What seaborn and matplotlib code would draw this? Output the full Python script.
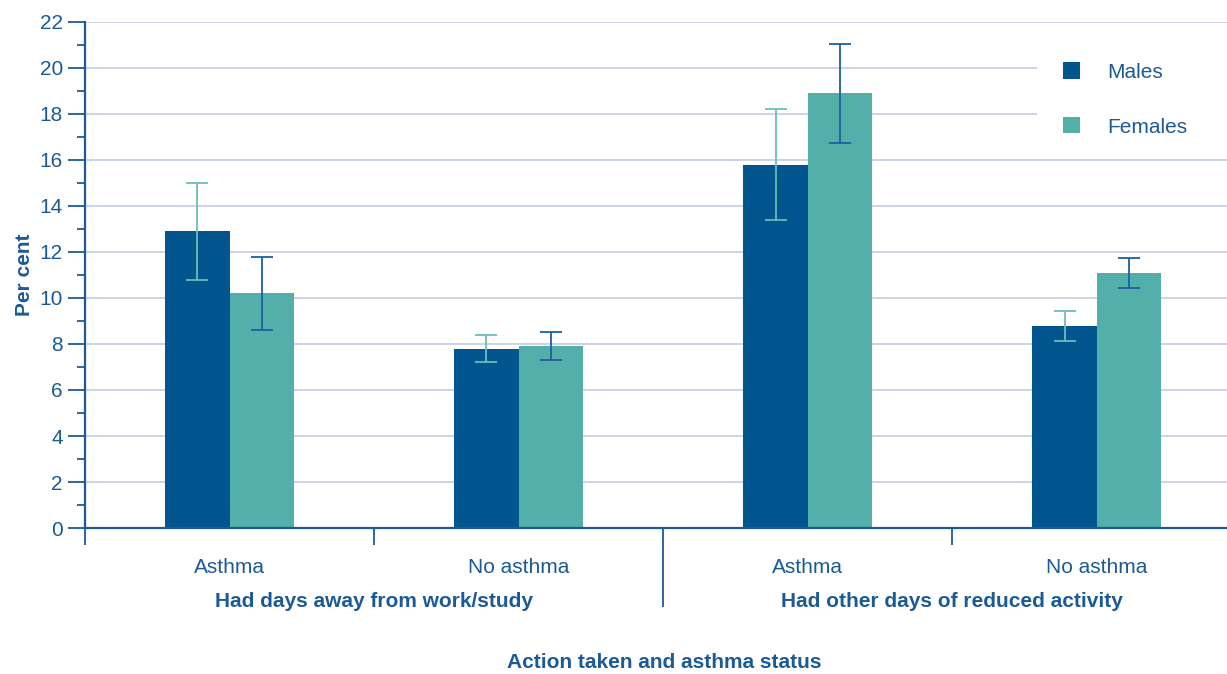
import pandas as pd
import seaborn as sns
import matplotlib.pyplot as plt
from matplotlib.patches import Patch, Rectangle
from matplotlib.ticker import MultipleLocator, FixedLocator

# data
groups = ['Had days away from work/study', 'Had other days of reduced activity']
status = ['Asthma', 'No asthma']
sexes = ['Males', 'Females']
males = [12.9, 7.8, 15.8, 8.8]
females = [10.2, 7.9, 18.9, 11.1]
males_err = [2.1, 0.6, 2.4, 0.65]
females_err = [1.6, 0.6, 2.15, 0.65]

blue = '#02568f'
teal = '#52afaa'
text_col = '#1c5a96'
grid_col = '#c6d0e8'

slots = [g + ' | ' + s for g in groups for s in status]
df = pd.DataFrame({
    'slot': slots * 2,
    'sex': ['Males'] * 4 + ['Females'] * 4,
    'value': males + females,
})

plt.rcParams['font.family'] = ['Liberation Sans', 'DejaVu Sans']
plt.rcParams['font.size'] = 15

fig = plt.figure(figsize=(12.27, 6.74), dpi=100)
ax = fig.add_axes([85 / 1227, 146 / 674, 1142 / 1227, 506 / 674])

sns.barplot(data=df, x='slot', y='value', hue='sex', order=slots, hue_order=sexes,
            palette=[blue, teal], saturation=1, width=0.446, errorbar=None,
            legend=False, ax=ax)

# error bars, centred on the drawn bars
for cont, errs, vals, col in zip(ax.containers, [males_err, females_err],
                                 [males, females], ['#6dbdb6', '#1f5f9f']):
    xs = [p.get_x() + p.get_width() / 2 for p in cont]
    ax.errorbar(xs, vals, yerr=errs, fmt='none', ecolor=col, elinewidth=1.3,
                capsize=7.8, capthick=1.3, zorder=4)

ax.set_xlim(-0.5, 3.45)
ax.set_ylim(0, 22)
ax.set_axisbelow(True)
ax.grid(axis='y', color=grid_col, linewidth=1.3)
ax.grid(axis='x', visible=False)

for s in ['top', 'right']:
    ax.spines[s].set_visible(False)
for s in ['left', 'bottom']:
    ax.spines[s].set_color(text_col)
    ax.spines[s].set_linewidth(1.6)

ax.yaxis.set_major_locator(MultipleLocator(2))
ax.yaxis.set_minor_locator(MultipleLocator(1))
ax.tick_params(axis='y', which='major', length=12, width=1.3, color=text_col,
               labelcolor=text_col, labelsize=15, pad=4)
ax.tick_params(axis='y', which='minor', length=6, width=1.3, color=text_col)

ax.xaxis.set_major_locator(FixedLocator([-0.5, 0.5, 2.5]))
ax.xaxis.set_minor_locator(FixedLocator([1.5]))
ax.set_xticklabels([])
ax.tick_params(axis='x', which='major', length=12, width=1.3, color=text_col)
ax.tick_params(axis='x', which='minor', length=57, width=1.3, color=text_col)

ax.set_xlabel('')
ax.set_ylabel('Per cent', fontsize=15, fontweight='bold', color=text_col)
ax.yaxis.set_label_coords((34 - 85) / 1142, 0.5)

tr = ax.get_xaxis_transform()
for i, slot in enumerate(slots):
    ax.text(i, -0.078, slot.split(' | ')[1], transform=tr, ha='center', va='center',
            color=text_col, fontsize=15)
for j, g in enumerate(groups):
    ax.text(2 * j + 0.5, -0.145, g, transform=tr, ha='center', va='center',
            color=text_col, fontsize=15, fontweight='bold')
ax.text(0.507, -0.266, 'Action taken and asthma status', transform=ax.transAxes,
        ha='center', va='center', color=text_col, fontsize=15, fontweight='bold')

# white patch behind the legend, hiding the gridlines there
ax.add_patch(Rectangle((1037 / 1227, 1 - 150 / 674), 190 / 1227, 112 / 674,
                       transform=fig.transFigure, facecolor='white', edgecolor='none',
                       zorder=2.5, clip_on=False))

handles = [Patch(facecolor=blue, edgecolor='none'), Patch(facecolor=teal, edgecolor='none')]
leg = ax.legend(handles, sexes, loc='center left',
                bbox_to_anchor=(1032 / 1227, 1 - 99.5 / 674), bbox_transform=fig.transFigure,
                frameon=False, handlelength=0.82, handleheight=0.82, handletextpad=1.3,
                labelspacing=1.7, borderpad=1.0, labelcolor=text_col, fontsize=15)

fig.savefig('out.png', dpi=100, facecolor='white')
